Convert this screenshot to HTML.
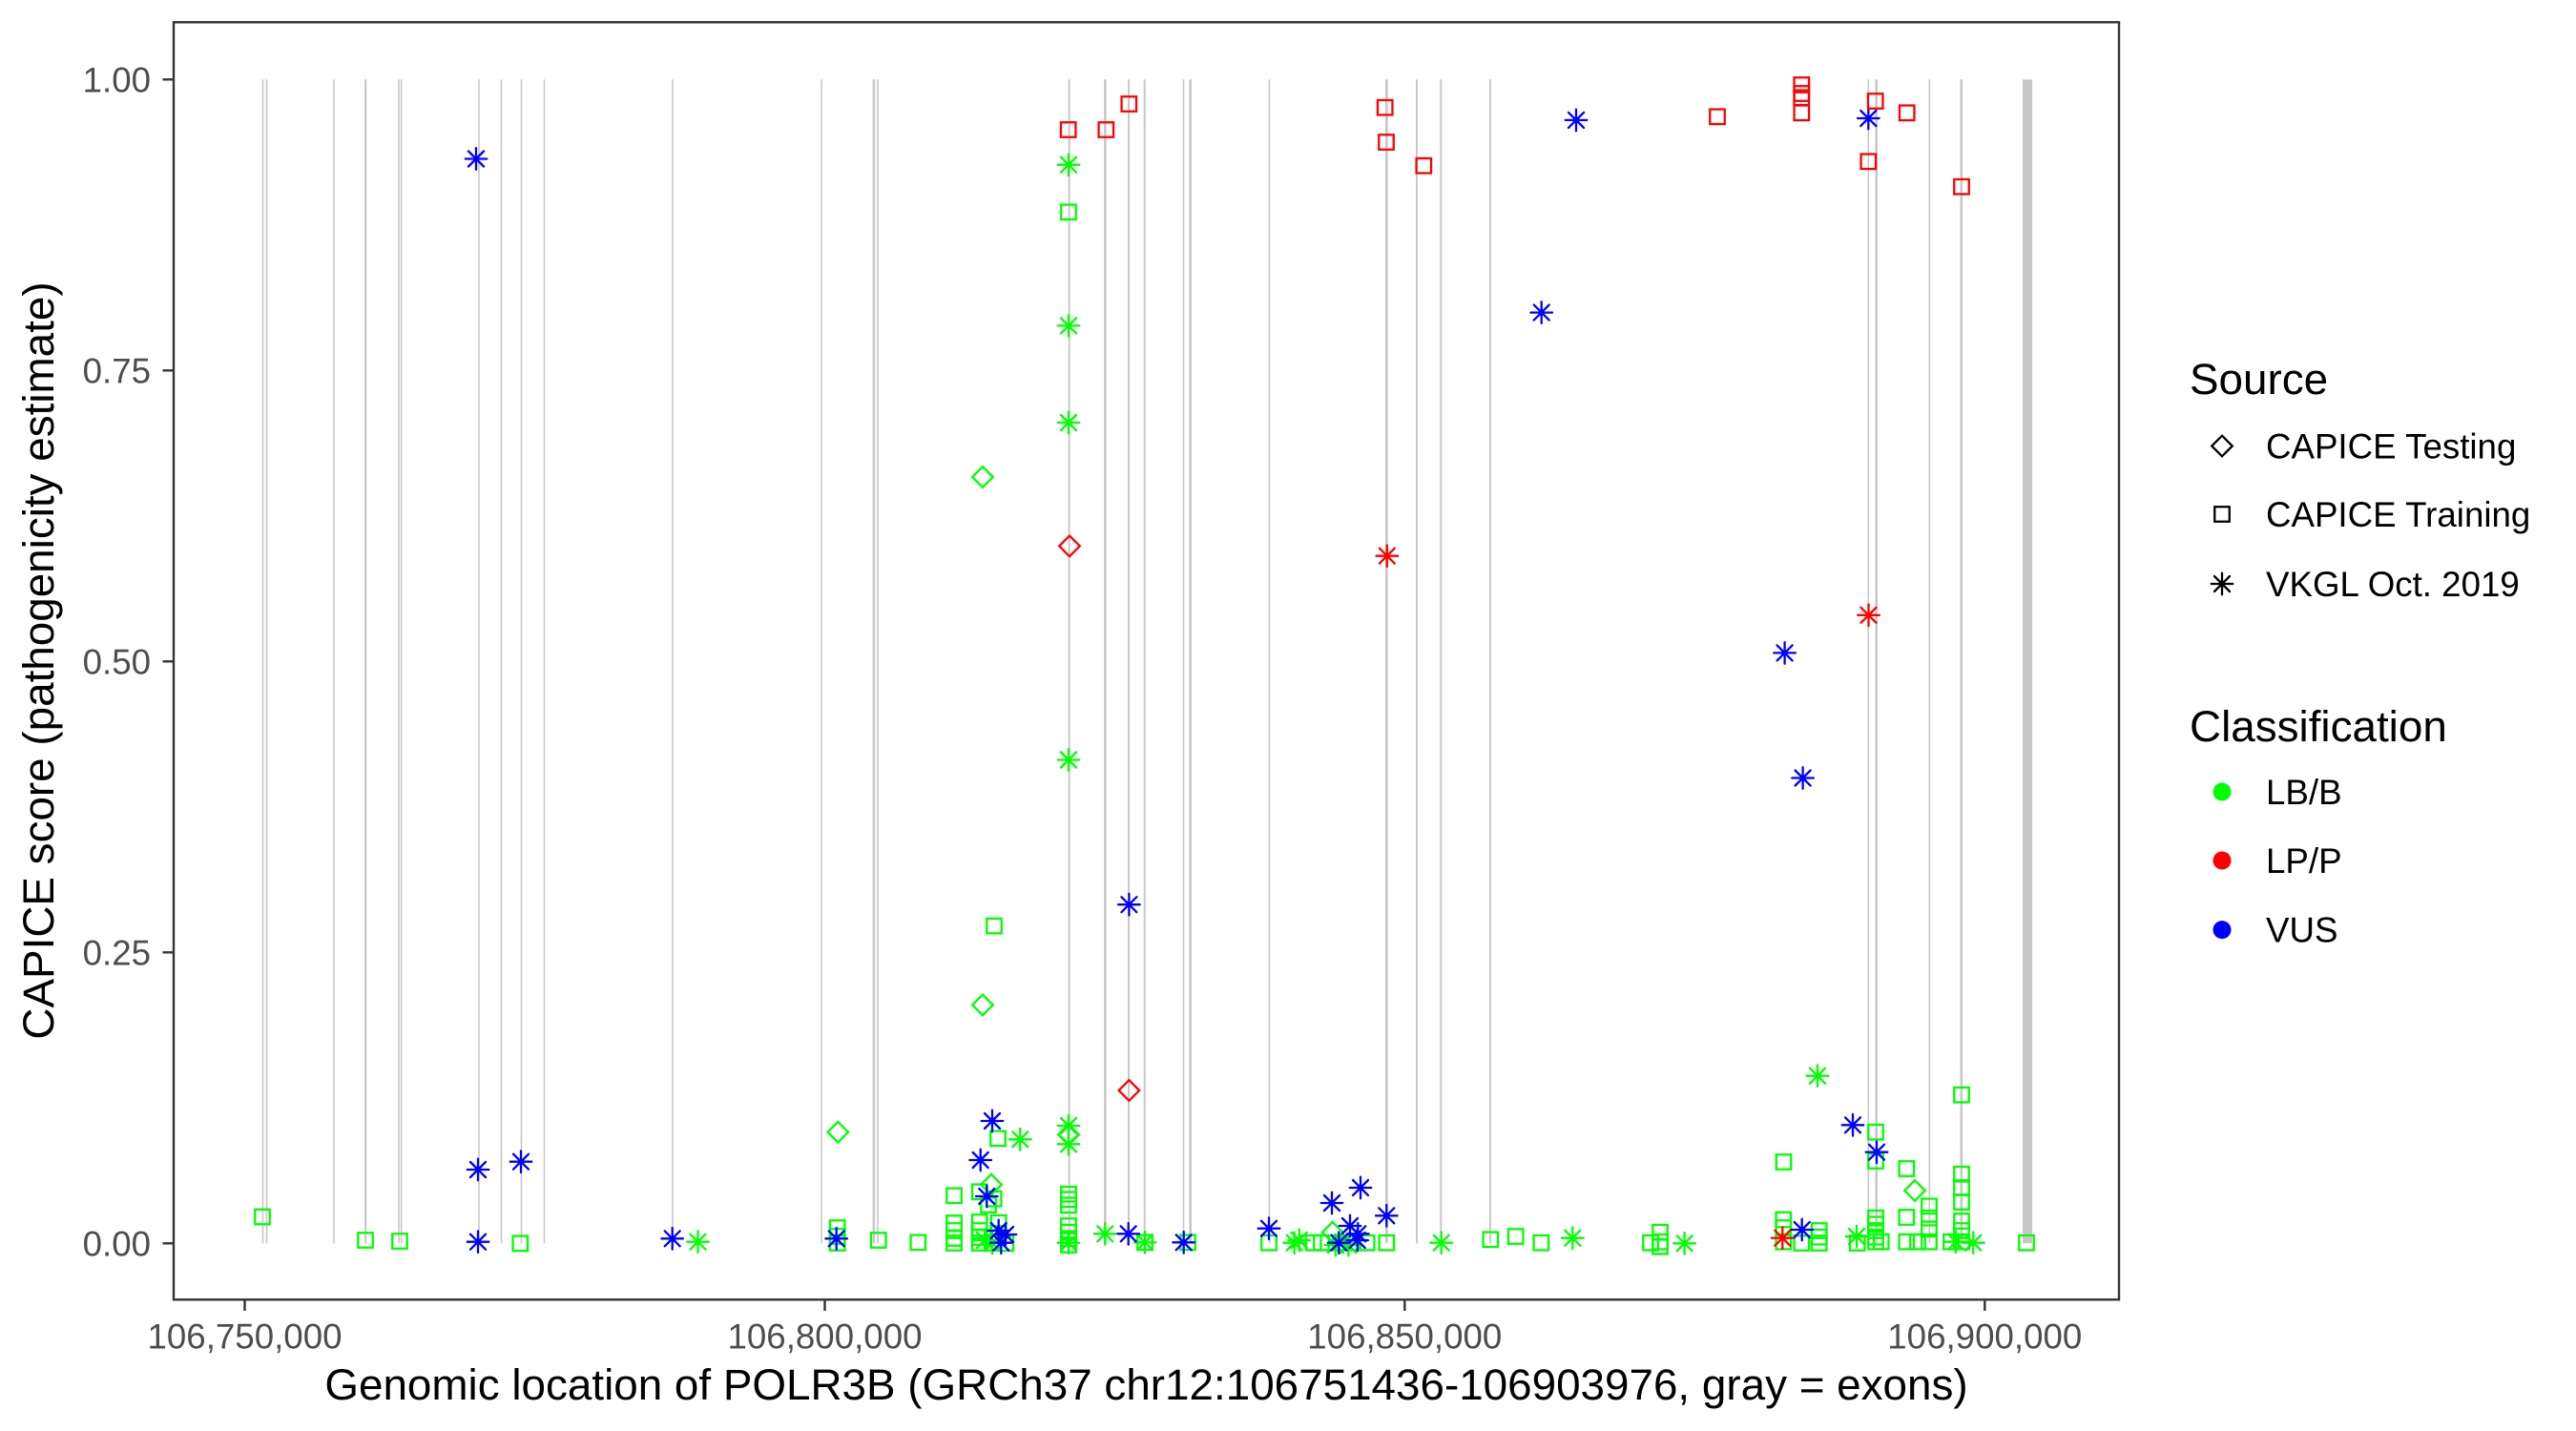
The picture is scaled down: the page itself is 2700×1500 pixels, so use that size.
<!DOCTYPE html>
<html><head><meta charset="utf-8"><style>html,body{margin:0;padding:0;background:#fff}svg{display:block}</style></head>
<body>
<svg width="2700" height="1500" viewBox="0 0 2700 1500" xmlns="http://www.w3.org/2000/svg" xmlns:xlink="http://www.w3.org/1999/xlink" font-family="'Liberation Sans', Arial, sans-serif">
<defs>
<rect id="sq" x="-7.75" y="-7.75" width="15.5" height="15.5" fill="none" stroke-width="2.3"/>
<path id="di" d="M0,-10.8L10.8,0L0,10.8L-10.8,0Z" fill="none" stroke-width="2.3"/>
<path id="as" d="M-11.3,0H11.3M0,-11.3V11.3M-8,-8L8,8M-8,8L8,-8" fill="none" stroke-width="2.3" stroke-linecap="round"/>
</defs>
<rect width="2700" height="1500" fill="#fff"/>
<g fill="#C8C8C8">
<rect x="274.7" y="83.3" width="1.6" height="1220"/>
<rect x="278.7" y="83.3" width="1.6" height="1220"/>
<rect x="349.2" y="83.3" width="1.6" height="1220"/>
<rect x="382" y="83.3" width="2.2" height="1220"/>
<rect x="417.2" y="83.3" width="1.6" height="1220"/>
<rect x="419.8" y="83.3" width="1.6" height="1220"/>
<rect x="501.2" y="83.3" width="1.6" height="1220"/>
<rect x="524.7" y="83.3" width="1.6" height="1220"/>
<rect x="545.7" y="83.3" width="1.6" height="1220"/>
<rect x="569.7" y="83.3" width="1.6" height="1220"/>
<rect x="704.2" y="83.3" width="1.6" height="1220"/>
<rect x="860.2" y="83.3" width="1.6" height="1220"/>
<rect x="914.6" y="83.3" width="2.6" height="1220"/>
<rect x="919.2" y="83.3" width="1.6" height="1220"/>
<rect x="1119.7" y="83.3" width="2" height="1220"/>
<rect x="1157" y="83.3" width="2.6" height="1220"/>
<rect x="1182" y="83.3" width="2" height="1220"/>
<rect x="1198.7" y="83.3" width="2" height="1220"/>
<rect x="1239.7" y="83.3" width="1.6" height="1220"/>
<rect x="1246.4" y="83.3" width="2.6" height="1220"/>
<rect x="1329.7" y="83.3" width="1.6" height="1220"/>
<rect x="1452" y="83.3" width="2.7" height="1220"/>
<rect x="1484" y="83.3" width="2" height="1220"/>
<rect x="1509.3" y="83.3" width="2" height="1220"/>
<rect x="1561" y="83.3" width="2" height="1220"/>
<rect x="1957.5" y="83.3" width="1.6" height="1220"/>
<rect x="1965.4" y="83.3" width="2.6" height="1220"/>
<rect x="2021.5" y="83.3" width="1.6" height="1220"/>
<rect x="2054.5" y="83.3" width="2.6" height="1220"/>
<rect x="2120" y="83.3" width="10" height="1220"/>
</g>
<g stroke="#00FF00">
<use xlink:href="#sq" x="275" y="1275.5"/>
<use xlink:href="#sq" x="383" y="1300"/>
<use xlink:href="#sq" x="419" y="1301"/>
<use xlink:href="#sq" x="545.3" y="1303.3"/>
<use xlink:href="#sq" x="877.7" y="1287"/>
<use xlink:href="#sq" x="877.7" y="1296"/>
<use xlink:href="#sq" x="877.7" y="1303"/>
<use xlink:href="#sq" x="920.7" y="1300"/>
<use xlink:href="#sq" x="962.3" y="1302.3"/>
<use xlink:href="#sq" x="1000" y="1253.3"/>
<use xlink:href="#sq" x="1000" y="1282"/>
<use xlink:href="#sq" x="1000" y="1290"/>
<use xlink:href="#sq" x="1000" y="1298"/>
<use xlink:href="#sq" x="1000" y="1303"/>
<use xlink:href="#sq" x="1026.7" y="1249.3"/>
<use xlink:href="#sq" x="1026.7" y="1281"/>
<use xlink:href="#sq" x="1026.7" y="1290"/>
<use xlink:href="#sq" x="1026.7" y="1297"/>
<use xlink:href="#sq" x="1026.7" y="1303"/>
<use xlink:href="#sq" x="1036" y="1263"/>
<use xlink:href="#sq" x="1041.7" y="1256.7"/>
<use xlink:href="#sq" x="1046.7" y="1281.7"/>
<use xlink:href="#sq" x="1046" y="1293"/>
<use xlink:href="#sq" x="1054.3" y="1303.3"/>
<use xlink:href="#sq" x="1041" y="1303"/>
<use xlink:href="#sq" x="1046" y="1193.3"/>
<use xlink:href="#sq" x="1042" y="970.6"/>
<use xlink:href="#sq" x="1120" y="222.3"/>
<use xlink:href="#sq" x="1120" y="1251.7"/>
<use xlink:href="#sq" x="1120" y="1257.3"/>
<use xlink:href="#sq" x="1120" y="1263.3"/>
<use xlink:href="#sq" x="1120" y="1285"/>
<use xlink:href="#sq" x="1120" y="1291.7"/>
<use xlink:href="#sq" x="1120" y="1298.3"/>
<use xlink:href="#sq" x="1120" y="1305"/>
<use xlink:href="#sq" x="1200" y="1302.3"/>
<use xlink:href="#sq" x="1245" y="1302.3"/>
<use xlink:href="#sq" x="1330" y="1302.7"/>
<use xlink:href="#sq" x="1376.7" y="1302.7"/>
<use xlink:href="#sq" x="1385" y="1302.7"/>
<use xlink:href="#sq" x="1405" y="1302.7"/>
<use xlink:href="#sq" x="1418" y="1302.7"/>
<use xlink:href="#sq" x="1432.7" y="1302.7"/>
<use xlink:href="#sq" x="1453.3" y="1302.7"/>
<use xlink:href="#sq" x="1562.3" y="1299.3"/>
<use xlink:href="#sq" x="1588.7" y="1296"/>
<use xlink:href="#sq" x="1615.3" y="1302.7"/>
<use xlink:href="#sq" x="1730" y="1302.7"/>
<use xlink:href="#sq" x="1740" y="1291.7"/>
<use xlink:href="#sq" x="1740" y="1301.7"/>
<use xlink:href="#sq" x="1740" y="1306.7"/>
<use xlink:href="#sq" x="1869.5" y="1218"/>
<use xlink:href="#sq" x="1869.3" y="1278.5"/>
<use xlink:href="#sq" x="1869.3" y="1287"/>
<use xlink:href="#sq" x="1869.3" y="1301.7"/>
<use xlink:href="#sq" x="1888.3" y="1303"/>
<use xlink:href="#sq" x="1906.7" y="1290"/>
<use xlink:href="#sq" x="1906.7" y="1296.7"/>
<use xlink:href="#sq" x="1906.7" y="1303"/>
<use xlink:href="#sq" x="1946.7" y="1303"/>
<use xlink:href="#sq" x="1966" y="1186.7"/>
<use xlink:href="#sq" x="1966" y="1217"/>
<use xlink:href="#sq" x="1966" y="1276.7"/>
<use xlink:href="#sq" x="1966" y="1283.3"/>
<use xlink:href="#sq" x="1966" y="1290"/>
<use xlink:href="#sq" x="1966" y="1296.7"/>
<use xlink:href="#sq" x="1966" y="1301.7"/>
<use xlink:href="#sq" x="1971.7" y="1301.7"/>
<use xlink:href="#sq" x="1998.3" y="1225"/>
<use xlink:href="#sq" x="1998.3" y="1276"/>
<use xlink:href="#sq" x="1998.3" y="1301.7"/>
<use xlink:href="#sq" x="2010" y="1301.7"/>
<use xlink:href="#sq" x="2022" y="1264.3"/>
<use xlink:href="#sq" x="2022" y="1276.7"/>
<use xlink:href="#sq" x="2022" y="1288.3"/>
<use xlink:href="#sq" x="2022" y="1301.7"/>
<use xlink:href="#sq" x="2045" y="1301.7"/>
<use xlink:href="#sq" x="2056" y="1147.7"/>
<use xlink:href="#sq" x="2056" y="1230.7"/>
<use xlink:href="#sq" x="2056" y="1245"/>
<use xlink:href="#sq" x="2056" y="1260"/>
<use xlink:href="#sq" x="2056" y="1280"/>
<use xlink:href="#sq" x="2056" y="1290"/>
<use xlink:href="#sq" x="2056" y="1301.7"/>
<use xlink:href="#sq" x="2124" y="1302.7"/>
<use xlink:href="#di" x="878.3" y="1186.7"/>
<use xlink:href="#di" x="1030" y="500"/>
<use xlink:href="#di" x="1030" y="1053.4"/>
<use xlink:href="#di" x="1039" y="1241.7"/>
<use xlink:href="#di" x="1120" y="1189.3"/>
<use xlink:href="#di" x="1396.7" y="1291.7"/>
<use xlink:href="#di" x="2007" y="1248"/>
<use xlink:href="#as" x="731.5" y="1301.7"/>
<use xlink:href="#as" x="1040" y="1303"/>
<use xlink:href="#as" x="1032" y="1300"/>
<use xlink:href="#as" x="1069.3" y="1194.3"/>
<use xlink:href="#as" x="1120" y="172.7"/>
<use xlink:href="#as" x="1120" y="341.4"/>
<use xlink:href="#as" x="1120" y="443"/>
<use xlink:href="#as" x="1120" y="796.5"/>
<use xlink:href="#as" x="1120" y="1180"/>
<use xlink:href="#as" x="1120" y="1199.3"/>
<use xlink:href="#as" x="1120" y="1302.7"/>
<use xlink:href="#as" x="1158.3" y="1293.3"/>
<use xlink:href="#as" x="1200" y="1302.3"/>
<use xlink:href="#as" x="1356.7" y="1302.7"/>
<use xlink:href="#as" x="1361.7" y="1300"/>
<use xlink:href="#as" x="1400" y="1305"/>
<use xlink:href="#as" x="1413.3" y="1305"/>
<use xlink:href="#as" x="1510.7" y="1302.7"/>
<use xlink:href="#as" x="1648.3" y="1297.7"/>
<use xlink:href="#as" x="1765.6" y="1303.3"/>
<use xlink:href="#as" x="1905" y="1127.7"/>
<use xlink:href="#as" x="1946" y="1296"/>
<use xlink:href="#as" x="2050" y="1301.7"/>
<use xlink:href="#as" x="2068.3" y="1302.7"/>
</g>
<g stroke="#0000FF">
<use xlink:href="#as" x="499" y="166.5"/>
<use xlink:href="#as" x="501" y="1226"/>
<use xlink:href="#as" x="501" y="1301.7"/>
<use xlink:href="#as" x="546" y="1217.7"/>
<use xlink:href="#as" x="704.7" y="1298.3"/>
<use xlink:href="#as" x="876.7" y="1298.3"/>
<use xlink:href="#as" x="1040" y="1175"/>
<use xlink:href="#as" x="1027.7" y="1216"/>
<use xlink:href="#as" x="1034.3" y="1254"/>
<use xlink:href="#as" x="1046.7" y="1290"/>
<use xlink:href="#as" x="1054" y="1294"/>
<use xlink:href="#as" x="1049.3" y="1302.7"/>
<use xlink:href="#as" x="1183.4" y="948.2"/>
<use xlink:href="#as" x="1182.7" y="1293.3"/>
<use xlink:href="#as" x="1240.7" y="1302.3"/>
<use xlink:href="#as" x="1330" y="1287.7"/>
<use xlink:href="#as" x="1396" y="1261"/>
<use xlink:href="#as" x="1426" y="1245"/>
<use xlink:href="#as" x="1415" y="1285"/>
<use xlink:href="#as" x="1423.3" y="1293.3"/>
<use xlink:href="#as" x="1422.7" y="1300"/>
<use xlink:href="#as" x="1403.3" y="1302.7"/>
<use xlink:href="#as" x="1453.3" y="1274.3"/>
<use xlink:href="#as" x="1652" y="125.9"/>
<use xlink:href="#as" x="1615.7" y="327.6"/>
<use xlink:href="#as" x="1958.3" y="124"/>
<use xlink:href="#as" x="1870.6" y="684.4"/>
<use xlink:href="#as" x="1889.6" y="815.5"/>
<use xlink:href="#as" x="1942" y="1179.3"/>
<use xlink:href="#as" x="1967" y="1207.7"/>
<use xlink:href="#as" x="1888.7" y="1289"/>
</g>
<g stroke="#FF0000">
<use xlink:href="#sq" x="1119.7" y="136"/>
<use xlink:href="#sq" x="1159.3" y="136"/>
<use xlink:href="#sq" x="1183.3" y="109"/>
<use xlink:href="#sq" x="1451.7" y="112.7"/>
<use xlink:href="#sq" x="1453" y="149"/>
<use xlink:href="#sq" x="1492.3" y="173.7"/>
<use xlink:href="#sq" x="1800" y="122.3"/>
<use xlink:href="#sq" x="1888.3" y="89"/>
<use xlink:href="#sq" x="1888.3" y="98"/>
<use xlink:href="#sq" x="1888.3" y="102.3"/>
<use xlink:href="#sq" x="1888.3" y="118.3"/>
<use xlink:href="#sq" x="1965.7" y="106"/>
<use xlink:href="#sq" x="1998.7" y="118.3"/>
<use xlink:href="#sq" x="1958.3" y="169.3"/>
<use xlink:href="#sq" x="2056" y="195.7"/>
<use xlink:href="#di" x="1121" y="572.4"/>
<use xlink:href="#di" x="1183.4" y="1143"/>
<use xlink:href="#as" x="1453.8" y="582.7"/>
<use xlink:href="#as" x="1958.5" y="644.8"/>
<use xlink:href="#as" x="1868.3" y="1297.7"/>
</g>
<rect x="182" y="23.3" width="2039" height="1339" fill="none" stroke="#333333" stroke-width="2.4"/>
<g stroke="#333333" stroke-width="2.4">
<path d="M170.5,83.3H182M170.5,388.3H182M170.5,693.3H182M170.5,998.3H182M170.5,1303.3H182"/>
<path d="M256.5,1362.3V1374M864.5,1362.3V1374M1472.3,1362.3V1374M2080.3,1362.3V1374"/>
</g>
<g fill="#4D4D4D" font-size="36.7">
<text x="158" y="96.5" text-anchor="end">1.00</text>
<text x="158" y="401.5" text-anchor="end">0.75</text>
<text x="158" y="706.5" text-anchor="end">0.50</text>
<text x="158" y="1011.5" text-anchor="end">0.25</text>
<text x="158" y="1316.5" text-anchor="end">0.00</text>
<text x="256.5" y="1413.5" text-anchor="middle">106,750,000</text>
<text x="864.5" y="1413.5" text-anchor="middle">106,800,000</text>
<text x="1472.3" y="1413.5" text-anchor="middle">106,850,000</text>
<text x="2080.3" y="1413.5" text-anchor="middle">106,900,000</text>
</g>
<text x="1201.5" y="1467" text-anchor="middle" font-size="45.8" fill="#000">Genomic location of POLR3B (GRCh37 chr12:106751436-106903976, gray = exons)</text>
<text transform="translate(56,692.5) rotate(-90)" text-anchor="middle" font-size="45.8" fill="#000">CAPICE score (pathogenicity estimate)</text>
<text x="2295" y="413" font-size="45.8" fill="#000">Source</text>
<g stroke="#000">
<use xlink:href="#di" x="2329" y="467.5"/>
<use xlink:href="#sq" x="2329" y="539"/>
<use xlink:href="#as" x="2329" y="612"/>
</g>
<g font-size="36.7" fill="#000">
<text x="2375" y="480.7">CAPICE Testing</text>
<text x="2375" y="552.2">CAPICE Training</text>
<text x="2375" y="625.2">VKGL Oct. 2019</text>
</g>
<text x="2295" y="777" font-size="45.8" fill="#000">Classification</text>
<circle cx="2329" cy="830" r="9.5" fill="#00FF00"/>
<circle cx="2329" cy="902" r="9.5" fill="#FF0000"/>
<circle cx="2329" cy="974.6" r="9.5" fill="#0000FF"/>
<g font-size="36.7" fill="#000">
<text x="2375" y="843">LB/B</text>
<text x="2375" y="915">LP/P</text>
<text x="2375" y="987.6">VUS</text>
</g>
</svg>
</body></html>
